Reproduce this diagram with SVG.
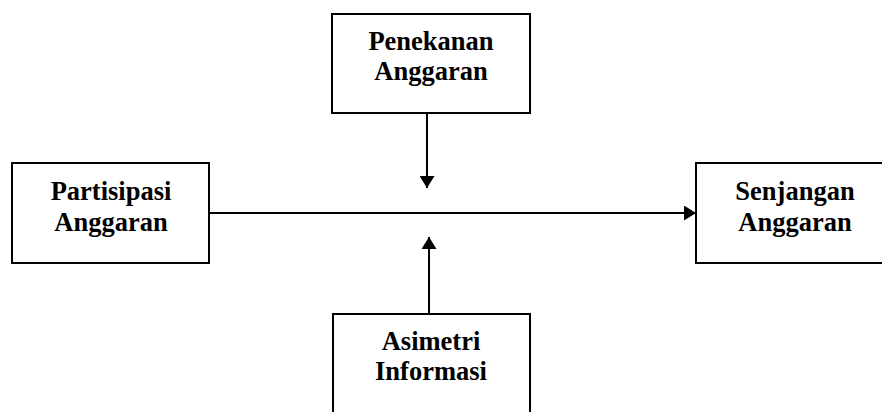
<svg xmlns="http://www.w3.org/2000/svg" width="882" height="412" viewBox="0 0 882 412">
<style>
.box{fill:#fff;stroke:#000;stroke-width:2}
.lbl{font-family:"Liberation Serif","Times New Roman",serif;font-weight:bold;font-size:26.5px;fill:#000;text-anchor:middle}
.con{stroke:#000;stroke-width:2;fill:none}
</style>
<defs>
<marker id="ah" viewBox="0 0 12 15" refX="12" refY="7.5" markerWidth="12" markerHeight="15" markerUnits="userSpaceOnUse" orient="auto">
<path d="M0,0 L12,7.5 L0,15 Z" fill="#000"/>
</marker>
</defs>
<rect width="882" height="412" fill="#fff"/>
<g id="connectors">
<line class="con" x1="209" y1="213" x2="696" y2="213" marker-end="url(#ah)"/>
<line class="con" x1="427" y1="113" x2="427" y2="188" marker-end="url(#ah)"/>
<line class="con" x1="429" y1="314" x2="429" y2="237" marker-end="url(#ah)"/>
</g>
<g id="penekanan">
<rect class="box" x="332" y="14" width="198" height="99"/>
<text class="lbl" x="431" y="50">Penekanan</text>
<text class="lbl" x="431" y="80">Anggaran</text>
</g>
<g id="partisipasi">
<rect class="box" x="12" y="163" width="197" height="100"/>
<text class="lbl" x="111" y="200">Partisipasi</text>
<text class="lbl" x="111" y="231">Anggaran</text>
</g>
<g id="senjangan">
<rect class="box" x="696" y="163" width="200" height="100"/>
<text class="lbl" x="795" y="200">Senjangan</text>
<text class="lbl" x="795" y="231">Anggaran</text>
</g>
<g id="asimetri">
<rect class="box" x="333" y="314" width="197" height="110"/>
<text class="lbl" x="431" y="350">Asimetri</text>
<text class="lbl" x="431" y="380">Informasi</text>
</g>
</svg>
